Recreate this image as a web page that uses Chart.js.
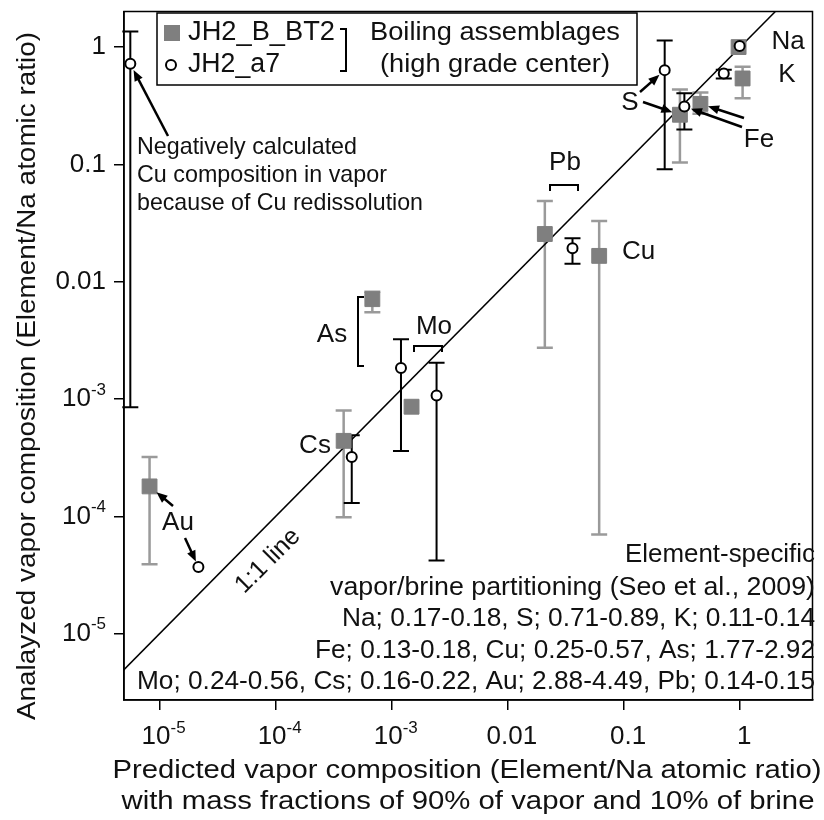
<!DOCTYPE html>
<html>
<head>
<meta charset="utf-8">
<script src="https://cdn.jsdelivr.net/npm/chart.js@4.4.1/dist/chart.umd.min.js"></script>
<style>
  html, body { margin: 0; padding: 0; background: #fff; }
  canvas { display: block; }
</style>
</head>
<body>
<canvas id="vapor-chart" width="824" height="820"></canvas>
<script>
// JH2_B_BT2 (grey squares)
var bt2Elements = ["Au", "Cs", "As", "Mo", "Pb", "Cu", "Fe", "Fe", "Na", "K"];
var bt2Predicted = [8.2e-6, 3.85e-4, 6.8e-4, 1.48e-3, 0.0208, 0.0611, 0.303, 0.455, 0.97, 1.05];
var bt2Analyzed = [1.8e-4, 4.4e-4, 7.1e-3, 8.6e-4, 0.0255, 0.0166, 0.265, 0.328, 1.0, 0.54];
var bt2Low = [3.9e-5, 9.8e-5, 5.5e-3, null, 0.00273, 7.0e-5, 0.104, 0.27, null, 0.367];
var bt2High = [3.2e-4, 8.0e-4, 8.2e-3, null, 0.0487, 0.033, 0.434, 0.41, null, 0.68];

// JH2_a7 (open circles)
var a7Elements = ["Cu", "Au", "Cs", "Mo", "Mo", "Pb", "S", "Fe", "K", "Na"];
var a7Predicted = [5.6e-6, 2.16e-5, 4.52e-4, 1.2e-3, 2.43e-3, 0.036, 0.224, 0.331, 0.723, 0.99];
var a7Analyzed = [0.72, 3.7e-5, 3.2e-4, 1.84e-3, 1.07e-3, 0.0193, 0.636, 0.312, 0.596, 1.02];
var a7Low = [8.5e-4, null, 1.3e-4, 3.6e-4, 4.2e-5, 0.0142, 0.091, 0.198, 0.54, null];
var a7High = [1.36, null, 4.9e-4, 3.24e-3, 2.04e-3, 0.0235, 1.14, 0.404, 0.64, null];

var decades = [1e-5, 1e-4, 1e-3, 0.01, 0.1, 1];
var tickLabels = [["10", "-5"], ["10", "-4"], ["10", "-3"], ["0.01"], ["0.1"], ["1"]];
var oneToOne = [1e-7, 10];

var partitionLines = [
  "Element-specific",
  "vapor/brine partitioning (Seo et al., 2009)",
  "Na; 0.17-0.18, S; 0.71-0.89, K; 0.11-0.14",
  "Fe; 0.13-0.18, Cu; 0.25-0.57, As; 1.77-2.92",
  "Mo; 0.24-0.56, Cs; 0.16-0.22, Au; 2.88-4.49, Pb; 0.14-0.15"
];

var FONT = '"Liberation Sans", Arial, sans-serif';
var GREY = "#7f7f7f";
var GREY_BAR = "#9a9a9a";

function points(xs, ys) {
  return xs.map(function (x, i) { return { x: x, y: ys[i] }; });
}

// text with optional horizontal fit to a measured width
function text(ctx, str, x, y, o) {
  o = o || {};
  ctx.save();
  ctx.font = (o.size || 24) + "px " + FONT;
  ctx.fillStyle = "#111";
  ctx.textBaseline = "middle";
  ctx.textAlign = o.align || "left";
  var w = ctx.measureText(str).width;
  var sx = o.width ? o.width / w : 1;
  ctx.translate(x, y);
  if (o.rotate) ctx.rotate(o.rotate);
  ctx.scale(sx, 1);
  ctx.fillText(str, 0, 0);
  ctx.restore();
}

function tickLabel(ctx, parts, x, y, align) {
  ctx.save();
  ctx.fillStyle = "#111";
  ctx.textBaseline = "middle";
  ctx.textAlign = "left";
  ctx.font = "26px " + FONT;
  var wb = ctx.measureText(parts[0]).width;
  ctx.font = "17px " + FONT;
  var we = parts[1] ? ctx.measureText(parts[1]).width : 0;
  var left = align === "right" ? x - wb - we : x - (wb + we) / 2;
  ctx.font = "26px " + FONT;
  ctx.fillText(parts[0], left, y);
  if (parts[1]) {
    ctx.font = "17px " + FONT;
    ctx.fillText(parts[1], left + wb, y - 9);
  }
  ctx.restore();
}

function path(ctx, pts, width) {
  ctx.save();
  ctx.strokeStyle = "#000";
  ctx.lineWidth = width || 2;
  ctx.beginPath();
  pts.forEach(function (p, i) { i ? ctx.lineTo(p[0], p[1]) : ctx.moveTo(p[0], p[1]); });
  ctx.stroke();
  ctx.restore();
}

// arrow from a label towards a data point, stopping short by gap
function arrowTo(ctx, x1, y1, x2, y2, gap) {
  var a = Math.atan2(y2 - y1, x2 - x1);
  var c = Math.cos(a), s = Math.sin(a);
  var ex = x2 - gap * c, ey = y2 - gap * s;
  ctx.save();
  ctx.strokeStyle = ctx.fillStyle = "#000";
  ctx.lineWidth = 2.5;
  ctx.beginPath();
  ctx.moveTo(x1, y1);
  ctx.lineTo(ex - 8 * c, ey - 8 * s);
  ctx.stroke();
  ctx.beginPath();
  ctx.moveTo(ex, ey);
  ctx.lineTo(ex - 11 * c + 4.5 * s, ey - 11 * s - 4.5 * c);
  ctx.lineTo(ex - 11 * c - 4.5 * s, ey - 11 * s + 4.5 * c);
  ctx.closePath();
  ctx.fill();
  ctx.restore();
}

function errorBars(chart, xs, lows, highs, color, width) {
  var ctx = chart.ctx, sx = chart.scales.x, sy = chart.scales.y;
  ctx.save();
  ctx.strokeStyle = color;
  ctx.lineWidth = width;
  xs.forEach(function (x, i) {
    if (lows[i] == null) return;
    var px = sx.getPixelForValue(x);
    var top = sy.getPixelForValue(highs[i]);
    var bot = sy.getPixelForValue(lows[i]);
    ctx.beginPath();
    ctx.moveTo(px, top); ctx.lineTo(px, bot);
    ctx.moveTo(px - 8, top); ctx.lineTo(px + 8, top);
    ctx.moveTo(px - 8, bot); ctx.lineTo(px + 8, bot);
    ctx.stroke();
  });
  ctx.restore();
}

var overlay = {
  id: "overlay",
  beforeDatasetsDraw: function (chart) {
    errorBars(chart, bt2Predicted, bt2Low, bt2High, GREY_BAR, 2.5);
    errorBars(chart, a7Predicted, a7Low, a7High, "#000", 2);
  },
  afterDraw: function (chart) {
    var ctx = chart.ctx, a = chart.chartArea;
    var sx = chart.scales.x, sy = chart.scales.y;
    function bt2(i) { return [sx.getPixelForValue(bt2Predicted[i]), sy.getPixelForValue(bt2Analyzed[i])]; }
    function a7(i) { return [sx.getPixelForValue(a7Predicted[i]), sy.getPixelForValue(a7Analyzed[i])]; }

    // frame
    ctx.save();
    ctx.strokeStyle = "#000";
    ctx.lineWidth = 1.5;
    ctx.strokeRect(a.left, a.top, a.right - a.left, a.bottom - a.top);
    ctx.restore();

    // tick labels
    decades.forEach(function (v, i) {
      tickLabel(ctx, tickLabels[i], sx.getPixelForValue(v) + 4, 737, "center");
      tickLabel(ctx, tickLabels[i], 106, sy.getPixelForValue(v), "right");
    });

    // axis titles
    text(ctx, "Predicted vapor composition (Element/Na atomic ratio)", 467, 771, { size: 26, align: "center", width: 709 });
    text(ctx, "with mass fractions of 90% of vapor and 10% of brine", 468, 802, { size: 26, align: "center", width: 693 });
    text(ctx, "Analayzed vapor composition (Element/Na atomic ratio)", 28, 376, { size: 26, align: "center", width: 688, rotate: -Math.PI / 2 });

    // legend
    ctx.save();
    ctx.strokeStyle = "#000";
    ctx.lineWidth = 1.5;
    ctx.strokeRect(157, 13, 480, 72);
    ctx.fillStyle = GREY;
    ctx.fillRect(164, 25, 16, 16);
    ctx.beginPath();
    ctx.arc(171, 65, 5, 0, Math.PI * 2);
    ctx.fillStyle = "#fff";
    ctx.fill();
    ctx.lineWidth = 2;
    ctx.stroke();
    ctx.restore();
    text(ctx, "JH2_B_BT2", 188, 33, { size: 27, width: 147 });
    text(ctx, "JH2_a7", 188, 65, { size: 27, width: 92 });
    path(ctx, [[340, 29], [346, 29], [346, 71], [340, 71]]);
    text(ctx, "Boiling assemblages", 495, 33, { size: 26, align: "center", width: 250 });
    text(ctx, "(high grade center)", 495, 65, { size: 26, align: "center", width: 230 });

    // negative Cu note
    text(ctx, "Negatively calculated", 137, 147, { width: 220 });
    text(ctx, "Cu composition in vapor", 137, 175, { width: 250 });
    text(ctx, "because of Cu redissolution", 137, 203, { width: 286 });
    var cu = a7(0);
    arrowTo(ctx, 168, 136, cu[0], cu[1], 7);

    // element labels
    var L = { size: 26, align: "center" };
    text(ctx, "Pb", 565, 163, L);
    path(ctx, [[550, 191], [550, 185], [578, 185], [578, 191]]);
    text(ctx, "Cu", 622, 252, { size: 26 });
    text(ctx, "As", 332, 335, L);
    path(ctx, [[364, 297], [358, 297], [358, 366], [364, 366]]);
    text(ctx, "Mo", 434, 327, L);
    path(ctx, [[414, 352], [414, 346], [442, 346], [442, 352]]);
    text(ctx, "Cs", 315, 446, L);
    text(ctx, "Au", 178, 523, L);
    var au1 = bt2(0), au2 = a7(1);
    arrowTo(ctx, 173, 506, au1[0], au1[1], 9);
    arrowTo(ctx, 185, 538, au2[0], au2[1], 6);
    text(ctx, "1:1 line", 268, 561, { size: 25, align: "center", rotate: -Math.PI / 4 });

    text(ctx, "S", 630, 103, L);
    var s = a7(6), fe1 = bt2(6);
    arrowTo(ctx, 640, 92, s[0], s[1], 7);
    arrowTo(ctx, 643, 102, fe1[0], fe1[1], 8);
    text(ctx, "Fe", 759, 140, L);
    var feC = a7(7), fe2 = bt2(7);
    arrowTo(ctx, 742, 127, feC[0], feC[1], 7);
    arrowTo(ctx, 744, 118, fe2[0], fe2[1], 8);
    text(ctx, "Na", 788, 42, L);
    text(ctx, "K", 787, 75, L);

    // partitioning note
    var widths = [190, 485, 473, 500, 678];
    var ys = [555, 588, 619, 651, 682];
    partitionLines.forEach(function (line, i) {
      text(ctx, line, 815, ys[i], { size: 25, align: "right", width: widths[i] });
    });
  }
};

function logAxis(extra) {
  return Object.assign({
    type: "logarithmic",
    afterBuildTicks: function (scale) {
      scale.ticks = decades.map(function (v) { return { value: v }; });
    },
    ticks: { autoSkip: false, callback: function () { return ""; } },
    grid: { drawOnChartArea: false, drawTicks: true, tickLength: 10, color: "#000", lineWidth: 1.5 },
    border: { display: true, color: "#000", width: 1.5 }
  }, extra);
}

document.addEventListener("DOMContentLoaded", function () {
  new Chart(document.getElementById("vapor-chart"), {
    type: "scatter",
    plugins: [overlay],
    data: {
      datasets: [
        {
          label: "JH2_a7",
          data: points(a7Predicted, a7Analyzed),
          pointStyle: "circle",
          pointRadius: 5,
          backgroundColor: "#fff",
          borderColor: "#000",
          borderWidth: 2
        },
        {
          label: "JH2_B_BT2",
          data: points(bt2Predicted, bt2Analyzed),
          pointStyle: "rect",
          pointRadius: 10.5,
          backgroundColor: GREY,
          borderColor: GREY,
          borderWidth: 1
        },
        {
          label: "1:1 line",
          data: points(oneToOne, oneToOne),
          showLine: true,
          pointRadius: 0,
          borderColor: "#000",
          borderWidth: 1.5
        }
      ]
    },
    options: {
      responsive: false,
      animation: false,
      events: [],
      layout: { padding: { top: 4, right: 1, left: 0, bottom: 0 } },
      plugins: { legend: { display: false }, tooltip: { enabled: false } },
      scales: {
        x: logAxis({
          min: 4.94e-6,
          max: 4.2,
          afterFit: function (scale) { scale.height = 120; }
        }),
        y: logAxis({
          min: 2.72e-6,
          max: 2.01,
          afterFit: function (scale) { scale.width = 124; }
        })
      }
    }
  });
});
</script>
</body>
</html>
